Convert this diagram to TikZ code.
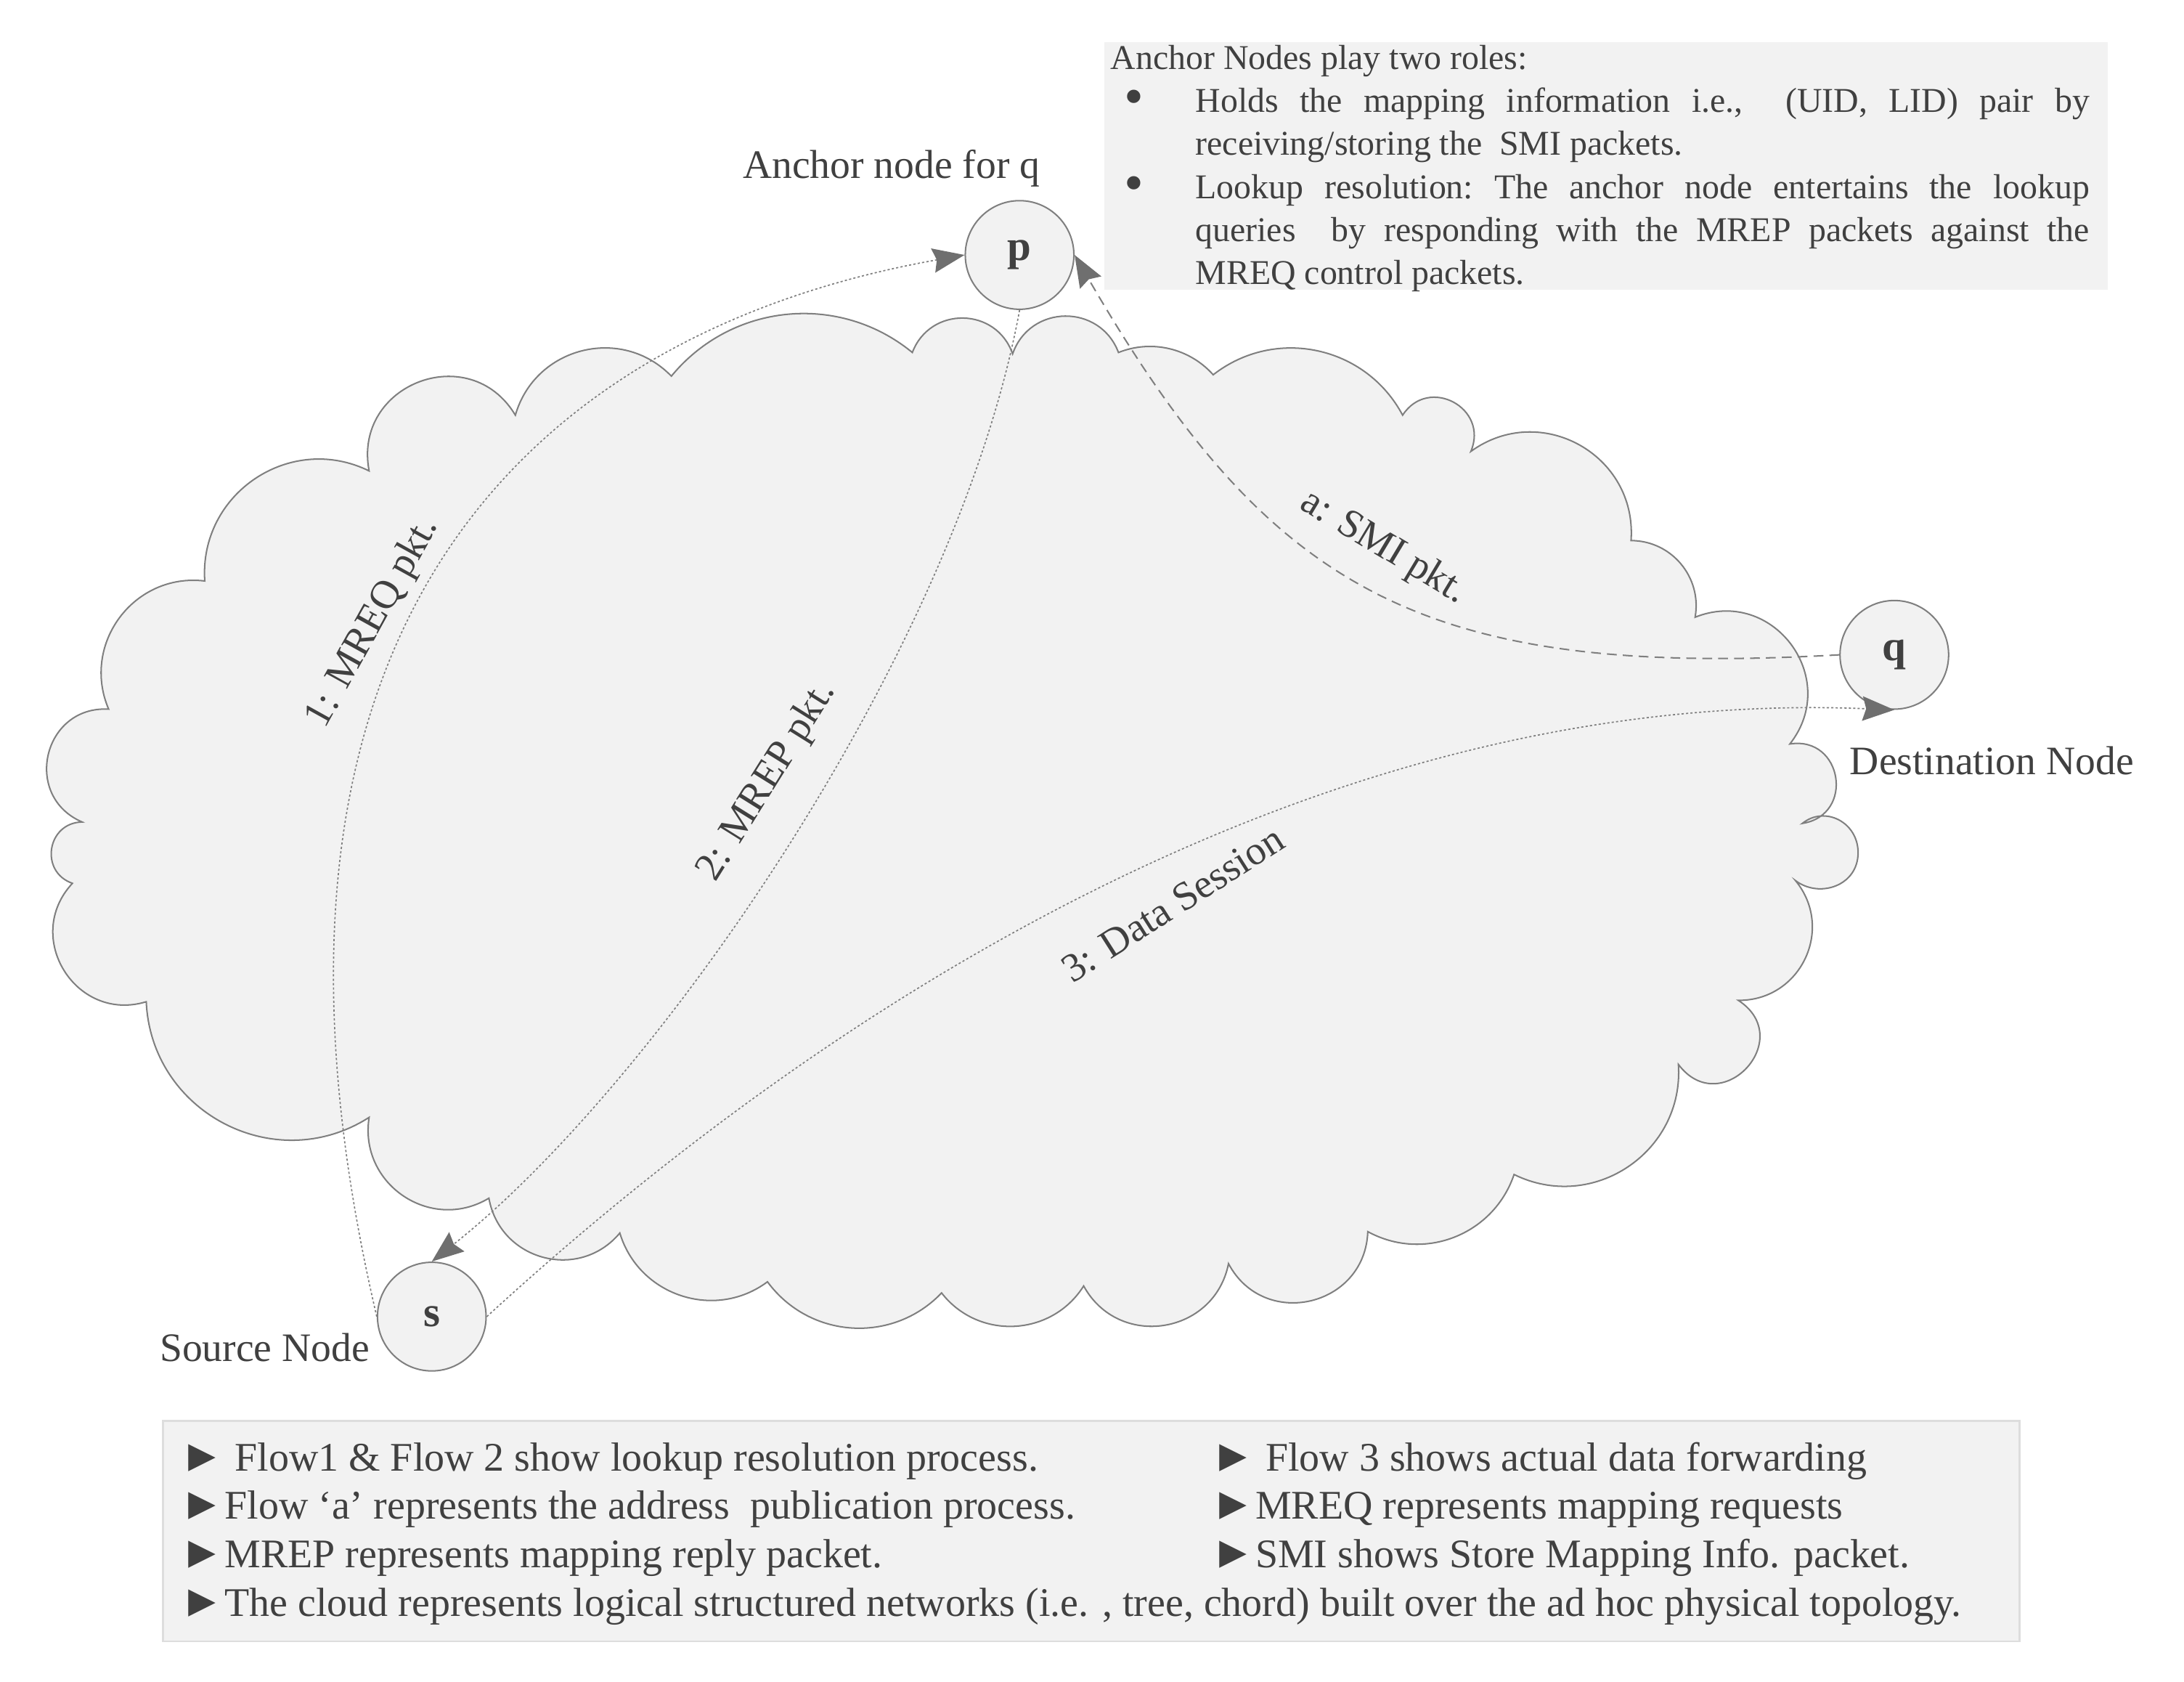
\documentclass[tikz,border=0pt]{standalone}
\usepackage{fontspec}
\usepackage{graphicx}
\setmainfont{Liberation Serif}
\usetikzlibrary{arrows.meta}
\definecolor{txt}{HTML}{404040}
\definecolor{ln}{HTML}{7F7F7F}
\definecolor{fl}{HTML}{F2F2F2}
\definecolor{arr}{HTML}{6F6F6F}
\definecolor{bx}{HTML}{DDDDDD}
\newcommand\tri{\kern-0.15em\scalebox{1.12}{►}}
\newcommand\bul{\raisebox{-0.08em}{\scalebox{1.6}{•}}}
\begin{document}
\begin{tikzpicture}[x=0.02cm, y=-0.02cm,
  cb35/.style={bend left=35, looseness=0.94},
  cb45/.style={bend left=45, looseness=1.0},
  cb50/.style={bend left=50, looseness=1.04},
  cb55/.style={bend left=55, looseness=1.08},
  cb60/.style={bend left=60, looseness=1.135},
  cb65/.style={bend left=65, looseness=1.2},
  cb70/.style={bend left=70, looseness=1.27},
  cb75/.style={bend left=75, looseness=1.35},
  cb80/.style={bend left=80, looseness=1.45},
  cb85/.style={bend left=85, looseness=1.57},
  cb90/.style={bend left=90, looseness=1.7},
  cb100/.style={bend left=100, looseness=2.06},
  nodec/.style={circle, draw=ln, fill=fl, line width=0.6pt, minimum size=1.56cm, inner sep=0pt, font=\fontsize{17.5}{20}\selectfont\bfseries, text=txt},
  lab/.style={font=\fontsize{16.5}{19.8}\selectfont, text=txt, inner sep=0pt},
  itm/.style={anchor=base west, inner sep=0pt, font=\fontsize{16.6}{19.9}\selectfont, text=txt},
  tipa/.style={-{Stealth[length=13pt,width=10pt,inset=1.5pt,color=arr]}},
  dotf/.style={draw=ln, line width=0.5pt, dash pattern=on 0.9pt off 0.9pt, tipa},
  dashf/.style={draw=ln, line width=0.6pt, dash pattern=on 4pt off 2.5pt, tipa}
]
\useasboundingbox (0,0) rectangle (1568,1207);

% cloud
\path[draw=ln, fill=fl, line width=0.6pt]
  (147,417) to[cb60] (265,338) to[cb80] (370,298) to[cb60] (482,270)
  to[cb45] (655,253) to[cb70] (727,254) to[cb70] (803,253) to[cb35] (871,269)
  to[cb50] (1007,298) to[cb85] (1056,324) to[cb65] (1171,388) to[cb50] (1217,443)
  to[cb75] (1285,534) to[cb90] (1294,591)
  .. controls (1310,578) and (1334,590) .. (1334,612)
  .. controls (1334,636) and (1306,645) .. (1289,632)
  to[cb65] (1248,718) to[cb100] (1205,764) to[cb60] (1087,843)
  to[cb50] (982,884) to[cb75] (882,907) to[cb70] (778,923) to[cb55] (676,928)
  to[cb50] (551,920) to[cb55] (445,885) to[cb65] (351,860) to[cb65] (265,802)
  to[cb60] (105,719) to[cb75] (52,634) to[cb80] (59,590) to[cb80] (78,509)
  to[cb60] (147,417) -- cycle;

% nodes
\node[nodec] (p) at (732,183) {p};
\node[nodec] (q) at (1360,470) {q};
\node[nodec] (s) at (310,945) {s};

% flows
\draw[dotf] (s.west) .. controls (150,430) and (400,235) .. (p.west);
\draw[dotf] (p.south) .. controls (687,468) and (470,779) .. (s.north);
\draw[dotf] (s.east) .. controls (607,709) and (960,493) .. (q.south);
\draw[dashf] (q.west) .. controls (1021,487) and (912,425) .. (p.east);

% flow labels
\node[lab, rotate=61] (l1) at (268,447) {1: MREQ pkt.};
\node[lab, rotate=58] (l2) at (551,561) {2: MREP pkt.};
\node[lab, rotate=32.5] (l3) at (842,649) {3: Data Session};
\node[lab, rotate=-31] (la) at (993,393) {a: SMI pkt.};

% node captions
\node[lab] (cp) at (640,121) {Anchor node for q};
\node[lab] (cq) at (1430,546) {Destination Node};
\node[lab] (cs) at (190,967) {Source Node};

% top box
\fill[fl] (793,30) rectangle (1513,208);
\node[anchor=north west, inner sep=0pt, text width=14.06cm, align=justify,
      font=\fontsize{14.2}{17.6}\selectfont, text=txt] (roles) at (797,32) {%
\hyphenpenalty=10000\exhyphenpenalty=10000\frenchspacing
Anchor Nodes play two roles:\par
{\leftskip=1.22cm \noindent\llap{\makebox[1.22cm][l]{\hspace{0.2cm}\bul}}Holds the mapping information i.e.,\ \ (UID, LID) pair by\linebreak receiving/storing the\ \ SMI packets.\par}
{\leftskip=1.22cm \noindent\llap{\makebox[1.22cm][l]{\hspace{0.2cm}\bul}}Lookup resolution: The anchor node entertains the lookup\linebreak queries\ \ by responding with the MREP packets against the\linebreak MREQ control packets.\par}};

% bottom box
\path[fill=fl, draw=bx, line width=0.8pt] (117,1020) rectangle (1450,1178);
\node[itm] (b1) at (133,1056) {\tri\ Flow1 \& Flow 2 show lookup resolution process.};
\node[itm] (b2) at (873,1056) {\tri\ Flow 3 shows actual data forwarding};
\node[itm] (b3) at (133,1090) {\tri Flow ‘a’ represents the address\ \ publication process.};
\node[itm] (b4) at (873,1090) {\tri MREQ represents mapping requests};
\node[itm] (b5) at (133,1125) {\tri MREP represents mapping reply packet.};
\node[itm] (b6) at (873,1125) {\tri SMI shows Store Mapping Info. packet.};
\node[itm] (b7) at (133,1160) {\tri The cloud represents logical structured networks (i.e. , tree, chord) built over the ad hoc physical topology.};
\end{tikzpicture}
\end{document}
